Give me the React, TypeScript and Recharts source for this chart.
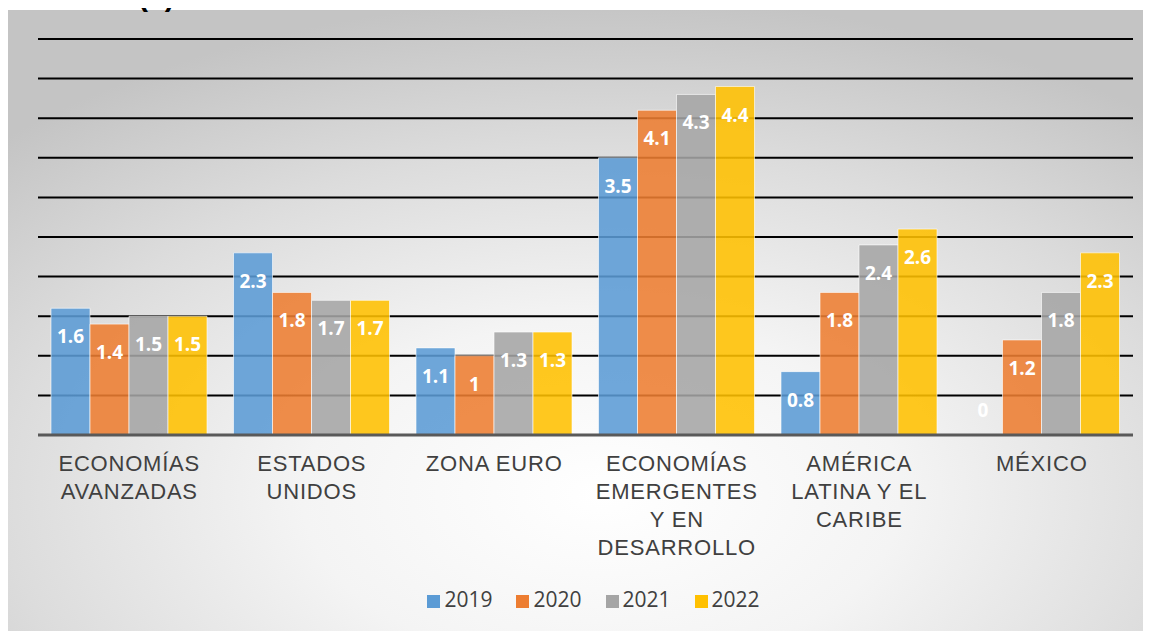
import React from 'react';
import {
  BarChart,
  Bar,
  XAxis,
  YAxis,
  CartesianGrid,
  Legend,
  LabelList
} from 'recharts';

const categories = [
  'ECONOMÍAS\nAVANZADAS',
  'ESTADOS\nUNIDOS',
  'ZONA EURO',
  'ECONOMÍAS\nEMERGENTES\nY EN\nDESARROLLO',
  'AMÉRICA\nLATINA Y EL\nCARIBE',
  'MÉXICO'
];
const v2019 = [1.6, 2.3, 1.1, 3.5, 0.8, 0];
const v2020 = [1.4, 1.8, 1, 4.1, 1.8, 1.2];
const v2021 = [1.5, 1.7, 1.3, 4.3, 2.4, 1.8];
const v2022 = [1.5, 1.7, 1.3, 4.4, 2.6, 2.3];
const yTicks = [0, 0.5, 1, 1.5, 2, 2.5, 3, 3.5, 4, 4.5, 5];

const data = categories.map((name, i) => ({
  name,
  y2019: v2019[i],
  y2020: v2020[i],
  y2021: v2021[i],
  y2022: v2022[i]
}));

const series = [
  { key: 'y2019', name: '2019', color: '#5B9BD5' },
  { key: 'y2020', name: '2020', color: '#ED7D31' },
  { key: 'y2021', name: '2021', color: '#A5A5A5' },
  { key: 'y2022', name: '2022', color: '#FFC000' }
];

const CategoryTick = (props: any) => {
  const { x, y, payload } = props;
  const lines = String(payload.value).split('\n');
  return (
    <text
      x={x}
      y={y + 28}
      textAnchor="middle"
      fill="#404040"
      fontSize={22}
      letterSpacing={0.8}
      fontFamily="'Liberation Sans', Arial, sans-serif"
    >
      {lines.map((l, i) => (
        <tspan key={i} x={x} dy={i === 0 ? 0 : 28}>
          {l}
        </tspan>
      ))}
    </text>
  );
};

const renderLabel = (props: any) => {
  const { x, y, width, height, value } = props;
  const base = Number(y) + Number(height);
  // a zero bar still gets its label, sitting just above the axis
  const cy = Number(height) < 2 ? base - 25 : Number(y) + 28;
  return (
    <text
      x={Number(x) + Number(width) / 2}
      y={cy}
      textAnchor="middle"
      dominantBaseline="central"
      fill="#ffffff"
      fontSize={19}
      fontWeight="bold"
      fontFamily="'Open Sans', sans-serif"
    >
      {value}
    </text>
  );
};

export default function App() {
  return (
    <div style={{ position: 'relative' }}>
      <div
        style={{
          position: 'absolute',
          top: -31,
          left: 130,
          fontSize: 30,
          fontWeight: 'bold',
          fontFamily: "'Liberation Sans', Arial, sans-serif",
          color: '#000'
        }}
      >
        (a)
      </div>
      <div
        style={{
          marginTop: 2,
          width: 1143,
          height: 621,
          background:
            'radial-gradient(ellipse 75% 80% at 52% 78%, #ffffff 0%, #f4f4f4 35%, #dcdcdc 70%, #c4c4c4 100%)'
        }}
      >
        <BarChart
          width={1143}
          height={621}
          data={data}
          margin={{ top: 29, right: 18, left: 30, bottom: 18 }}
          barCategoryGap={13}
          barGap={0}
        >
          <CartesianGrid vertical={false} stroke="#000000" strokeWidth={2} />
          <YAxis hide domain={[0, 5]} ticks={yTicks} />
          <XAxis
            dataKey="name"
            interval={0}
            tick={<CategoryTick />}
            tickLine={false}
            axisLine={{ stroke: '#595959', strokeWidth: 3 }}
            height={150}
          />
          <Legend
            iconType="square"
            iconSize={13}
            wrapperStyle={{
              fontFamily: "'Open Sans', sans-serif",
              fontSize: 21,
              color: '#404040',
              paddingLeft: 20
            }}
            formatter={(value: string) => (
              <span style={{ color: '#404040', marginRight: 14 }}>{value}</span>
            )}
          />
          {series.map((s) => (
            <Bar
              key={s.key}
              dataKey={s.key}
              name={s.name}
              fill={s.color}
              fillOpacity={0.88}
              stroke="rgba(255,255,255,0.6)"
              strokeWidth={1}
              minPointSize={0.01}
              isAnimationActive={false}
            >
              <LabelList dataKey={s.key} content={renderLabel} />
            </Bar>
          ))}
        </BarChart>
      </div>
    </div>
  );
}
